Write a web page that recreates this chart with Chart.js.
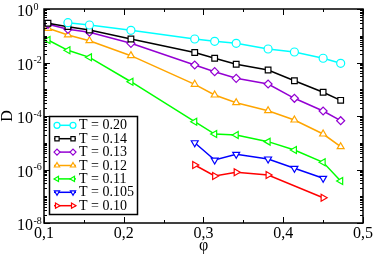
<!DOCTYPE html>
<html>
<head>
<meta charset="utf-8">
<script src="https://cdn.jsdelivr.net/npm/chart.js"></script>
<style>
  body { margin: 0; background: #fff; }
  #wrap { width: 374px; height: 260px; }
</style>
</head>
<body>
<div id="wrap"><canvas id="c" width="374" height="260"></canvas></div>
<script>
// packing fraction values shared by all series
const phi = [0.105, 0.13, 0.157, 0.209, 0.289, 0.314, 0.341, 0.381, 0.414, 0.45, 0.472];

// diffusion constant D per temperature
const dT020  = [null, 0.308, 0.252, 0.160, 0.0757, 0.0621, 0.0521, 0.032, 0.0247, 0.0144, 0.0093];
const dT014  = [0.292, 0.219, 0.164, 0.0759, 0.0237, 0.0144, 0.00857, 0.00525, 0.00207, 0.000769, 0.000386];
const dT013  = [0.268, 0.174, 0.135, 0.0522, 0.00807, 0.00453, 0.00256, 0.00157, 0.000459, 0.000154, 0.0000667];
const dT012  = [0.190, 0.107, 0.0653, 0.0180, 0.00153, 0.00061, 0.000314, 0.000158, 0.0000708, 0.0000212, 0.00000711];
const dT011  = [0.0693, 0.0286, 0.0156, 0.00191, 6.12e-5, 2.12e-5, 1.95e-5, 1.10e-5, 5.36e-6, 1.86e-6, 3.72e-7];
const dT0105 = [null, null, null, null, 1.0e-5, 2.26e-6, 3.70e-6, 2.47e-6, 1.11e-6, 4.69e-7, null];
const dT010  = [null, null, null, null, 1.47e-6, 5.71e-7, 7.85e-7, 6.22e-7, null, 8.83e-8, null];

const xTicks = [0.1, 0.2, 0.3, 0.4, 0.5];
const xTickLabels = ['0,1', '0,2', '0,3', '0,4', '0,5'];
const xMinorTicks = [0.15, 0.25, 0.35, 0.45];
const yTickExps = [0, -2, -4, -6, -8];

const SERIF = '"Liberation Serif", "DejaVu Serif", serif';

function pts(arr) {
  return phi.map((x, i) => ({ x: x, y: arr[i] }));
}

function series(label, arr, color, style, rot) {
  return {
    label: label,
    data: pts(arr),
    borderColor: color,
    backgroundColor: color,
    borderWidth: 1.5,
    pointStyle: style,
    rotation: rot,
    pointRadius: 4,
    pointBorderWidth: 1.2,
    pointBackgroundColor: '#fff',
    pointBorderColor: color,
    spanGaps: true,
    tension: 0
  };
}

const datasets = [
  series('T = 0.20', dT020, '#00ffff', 'circle', 0),
  series('T = 0.14', dT014, '#000000', 'rect', 0),
  series('T = 0.13', dT013, '#9400d3', 'rectRot', 0),
  series('T = 0.12', dT012, '#ffa500', 'triangle', 0),
  series('T = 0.11', dT011, '#00ff00', 'triangle', 270),
  series('T = 0.105', dT0105, '#0000ff', 'triangle', 180),
  series('T = 0.10', dT010, '#ff0000', 'triangle', 90)
];

// frame, inward ticks, labels and legend
const decorations = {
  id: 'decorations',
  afterDraw(chart) {
    const ctx = chart.ctx;
    const a = chart.chartArea;
    const xs = chart.scales.x, ys = chart.scales.y;
    ctx.save();
    ctx.strokeStyle = '#000';
    ctx.fillStyle = '#000';

    // ticks
    ctx.lineWidth = 1;
    ctx.beginPath();
    function xTick(v, len) {
      const px = Math.round(xs.getPixelForValue(v)) + 0.5;
      ctx.moveTo(px, a.bottom); ctx.lineTo(px, a.bottom - len);
      ctx.moveTo(px, a.top); ctx.lineTo(px, a.top + len);
    }
    function yTick(v, len) {
      const py = Math.round(ys.getPixelForValue(v)) + 0.5;
      ctx.moveTo(a.left, py); ctx.lineTo(a.left + len, py);
      ctx.moveTo(a.right, py); ctx.lineTo(a.right - len, py);
    }
    xTicks.forEach(v => xTick(v, 6));
    xMinorTicks.forEach(v => xTick(v, 3));
    for (let e = -8; e < 0; e++) {
      for (let m = 1; m < 10; m++) {
        if (m === 1 && e % 2 === 0) continue;
        yTick(m * Math.pow(10, e), 3);
      }
    }
    yTickExps.forEach(e => yTick(Math.pow(10, e), 6));
    ctx.stroke();

    // frame
    ctx.lineWidth = 1.5;
    ctx.strokeRect(a.left, a.top, a.right - a.left, a.bottom - a.top);

    // x labels
    ctx.font = '16px ' + SERIF;
    ctx.textAlign = 'center';
    ctx.textBaseline = 'middle';
    xTicks.forEach((v, i) => {
      ctx.fillText(xTickLabels[i], xs.getPixelForValue(v), a.bottom + 11);
    });

    // y labels 10^n
    yTickExps.forEach(e => {
      const py = ys.getPixelForValue(Math.pow(10, e));
      ctx.font = '16px ' + SERIF;
      ctx.textAlign = 'right';
      ctx.textBaseline = 'middle';
      ctx.fillText('10', 33, py + 3);
      ctx.font = '10px ' + SERIF;
      ctx.textAlign = 'left';
      ctx.fillText(e === 0 ? '0' : '-' + (-e), 33.5, py - 2);
    });

    // axis titles
    ctx.font = '16px ' + SERIF;
    ctx.textAlign = 'center';
    ctx.textBaseline = 'middle';
    ctx.fillText('\u03c6', xs.getPixelForValue(0.3), 246);
    ctx.save();
    ctx.translate(8, (a.top + a.bottom) / 2);
    ctx.rotate(-Math.PI / 2);
    ctx.fillText('D', 0, 0);
    ctx.restore();

    // legend
    const lx = 49.5, ly = 116.5, lw = 88, lh = 98;
    ctx.fillStyle = '#fff';
    ctx.fillRect(lx, ly, lw, lh);
    ctx.lineWidth = 1.5;
    ctx.strokeStyle = '#000';
    ctx.strokeRect(lx, ly, lw, lh);
    chart.data.datasets.forEach((ds, i) => {
      const y = 125.3 + i * 13.4;
      ctx.strokeStyle = ds.borderColor;
      ctx.lineWidth = 1.5;
      ctx.beginPath();
      ctx.moveTo(54, y); ctx.lineTo(76, y);
      ctx.stroke();
      [57, 73].forEach(mx => {
        ctx.fillStyle = '#fff';
        ctx.strokeStyle = ds.borderColor;
        ctx.lineWidth = 1.2;
        Chart.helpers.drawPoint(ctx, {
          pointStyle: ds.pointStyle, rotation: ds.rotation, radius: 3, borderWidth: 1.2
        }, mx, y);
      });
      ctx.fillStyle = '#000';
      ctx.font = '14px ' + SERIF;
      ctx.textAlign = 'left';
      ctx.textBaseline = 'middle';
      ctx.fillText(ds.label, 79, y + 0.5);
    });
    ctx.restore();
  }
};

new Chart(document.getElementById('c'), {
  type: 'line',
  data: { datasets: datasets },
  options: {
    responsive: false,
    animation: false,
    layout: { padding: { left: 44, right: 11, top: 9, bottom: 37 } },
    plugins: { legend: { display: false }, tooltip: { enabled: false } },
    scales: {
      x: { type: 'linear', min: 0.1, max: 0.5, display: false },
      y: { type: 'logarithmic', min: 1e-8, max: 1, display: false }
    }
  },
  plugins: [decorations]
});
</script>
</body>
</html>
